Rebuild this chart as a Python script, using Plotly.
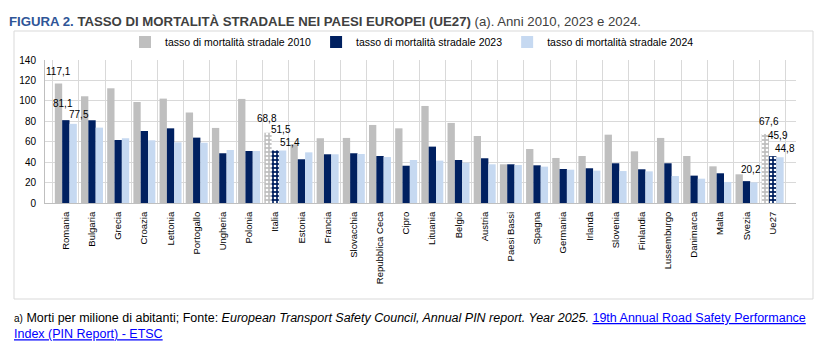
import plotly.graph_objects as go

categories = ["Romania", "Bulgaria", "Grecia", "Croazia", "Lettonia", "Portogallo", "Ungheria",
              "Polonia", "Italia", "Estonia", "Francia", "Slovacchia", "Repubblica Ceca", "Cipro",
              "Lituania", "Belgio", "Austria", "Paesi Bassi", "Spagna", "Germania", "Irlanda",
              "Slovenia", "Finlandia", "Lussemburgo", "Danimarca", "Malta", "Svezia", "Ue27"]

rate_2010 = [117.1, 104.5, 112.3, 98.9, 102.2, 88.5, 73.5, 101.9, 68.8, 57.5, 63.4, 63.7, 76.4, 73.1,
             95.0, 78.4, 65.6, 37.9, 52.9, 44.1, 46.0, 66.9, 50.6, 63.7, 46.0, 35.9, 28.1, 67.6]
rate_2023 = [81.1, 81.0, 61.7, 70.5, 73.1, 64.0, 48.7, 50.9, 51.5, 42.8, 47.7, 48.7, 46.0, 36.5,
             55.2, 42.1, 43.8, 37.9, 36.9, 33.3, 34.0, 38.9, 33.0, 38.9, 26.8, 29.1, 21.4, 45.9]
rate_2024 = [77.5, 73.8, 63.4, 61.4, 59.4, 59.0, 51.9, 50.9, 51.4, 49.6, 47.7, 48.0, 45.0, 42.1,
             41.5, 39.5, 37.9, 37.2, 35.6, 32.6, 31.7, 31.3, 31.0, 26.4, 23.8, 20.6, 20.2, 44.8]

series_names = ["tasso di mortalità stradale 2010", "tasso di mortalità stradale 2023",
                "tasso di mortalità stradale 2024"]
highlighted = ["Italia", "Ue27"]

# labelled bars: (category, series index)
labelled = [("Romania", 0), ("Romania", 1), ("Romania", 2),
            ("Italia", 0), ("Italia", 1), ("Italia", 2),
            ("Svezia", 2),
            ("Ue27", 0), ("Ue27", 1), ("Ue27", 2)]
# label offsets in px (style only)
label_offsets = {("Romania", 0): (0, 12), ("Romania", 1): (-3, 17), ("Romania", 2): (6, 9),
                 ("Italia", 0): (-1, 14), ("Italia", 1): (6, 21), ("Italia", 2): (7, 8),
                 ("Svezia", 2): (-3, 13),
                 ("Ue27", 0): (4, 12), ("Ue27", 1): (5, 21), ("Ue27", 2): (5, 9)}

colors = ["#BFBFBF", "#002060", "#C6D9F1"]
FONT = "Liberation Sans Narrow, Arial Narrow, Liberation Sans, Arial, sans-serif"

# page has an 8px body margin: figure drawn from (8, 8) in the window
W, H = 822, 348
OFF = 8
PL, PR, PT, PB = 45, 796, 60, 203  # plot area in window pixels
PW, PH = PR - PL, PB - PT


def px(xw):
    return (xw - PL) / PW


def py(yw):
    return (PB - yw) / PH


fig = go.Figure()
all_series = [rate_2010, rate_2023, rate_2024]
for k, (name, vals) in enumerate(zip(series_names, all_series)):
    if k < 2:
        shapes = ["." if c in highlighted else "" for c in categories]
        pattern = dict(shape=shapes, fgcolor="#FFFFFF", bgcolor=colors[k], size=4, solidity=0.35,
                       fillmode="replace")
    else:
        pattern = dict(shape="")
    fig.add_trace(go.Bar(x=categories, y=vals, name=name,
                         marker=dict(color=colors[k], line=dict(width=0), pattern=pattern),
                         hoverinfo="x+y"))

bar_w = (1 - 0.16) / 3
annotations = []
for (cat, k) in labelled:
    i = categories.index(cat)
    v = all_series[k][i]
    dx, dy = label_offsets[(cat, k)]
    annotations.append(dict(x=i + (k - 1) * bar_w, y=v, xref="x", yref="y",
                            text=f"{v:.1f}".replace(".", ","), showarrow=False,
                            xshift=dx, yshift=dy, yanchor="middle", borderpad=0,
                            font=dict(family=FONT, size=10, color="#000000")))

# title
annotations.append(dict(
    x=px(8), y=py(21), xref="paper", yref="paper", xanchor="left", yanchor="middle",
    showarrow=False, borderpad=0,
    text='<span style="color:#2F5597"><b>FIGURA 2.</b></span> '
         '<b>TASSO DI MORTALITÀ STRADALE NEI PAESI EUROPEI (UE27)</b> (a). Anni 2010, 2023 e 2024.',
    font=dict(family=FONT, size=13.2, color="#404040")))

# footnote
annotations.append(dict(
    x=px(13), y=py(326), xref="paper", yref="paper", xanchor="left", yanchor="middle",
    showarrow=False, align="left", borderpad=0,
    text='<span style="font-size:10px">a)</span> Morti per milione di abitanti; Fonte: '
         '<i>European Transport Safety Council, Annual PIN report. Year 2025.</i> '
         '<a href="https://etsc.eu/19th-annual-road-safety-performance-index-pin-report/" '
         'style="color:#0000FF;text-decoration:underline">19th Annual Road Safety Performance</a><br>'
         '<a href="https://etsc.eu/19th-annual-road-safety-performance-index-pin-report/" '
         'style="color:#0000FF;text-decoration:underline">Index (PIN Report) - ETSC</a>',
    font=dict(family=FONT, size=12.5, color="#000000")))

fig.update_layout(
    width=W, height=H,
    margin=dict(l=PL - OFF, r=W - (PR - OFF), t=PT - OFF, b=H - (PB - OFF), autoexpand=False),
    paper_bgcolor="#FFFFFF", plot_bgcolor="#FFFFFF",
    barmode="group", bargap=0.16, bargroupgap=0,
    font=dict(family=FONT, size=10, color="#000000"),
    showlegend=True,
    legend=dict(orientation="h", x=px(125), xanchor="left", y=py(42), yanchor="middle",
                font=dict(family=FONT, size=10.5, color="#000000"),
                itemwidth=30, bgcolor="rgba(0,0,0,0)"),
    annotations=annotations,
    shapes=[dict(type="rect", xref="paper", yref="paper",
                 x0=px(14), x1=px(813), y0=py(299), y1=py(31),
                 line=dict(color="#D9D9D9", width=1), fillcolor="rgba(0,0,0,0)", layer="below")],
    xaxis=dict(type="category", tickangle=-90, tickson="boundaries", showgrid=True,
               gridcolor="#D9D9D9", gridwidth=1, showline=True, linecolor="#BFBFBF",
               ticks="", tickfont=dict(family=FONT, size=9.5, color="#000000"),
               ticklabelstandoff=4, automargin=False),
    yaxis=dict(range=[0, 140], dtick=20, showgrid=True, gridcolor="#D9D9D9", gridwidth=1,
               showline=True, linecolor="#BFBFBF", ticks="", zeroline=False,
               tickfont=dict(family=FONT, size=10, color="#000000"), ticklabelstandoff=6,
               automargin=False),
)

fig.write_html("out.html")
